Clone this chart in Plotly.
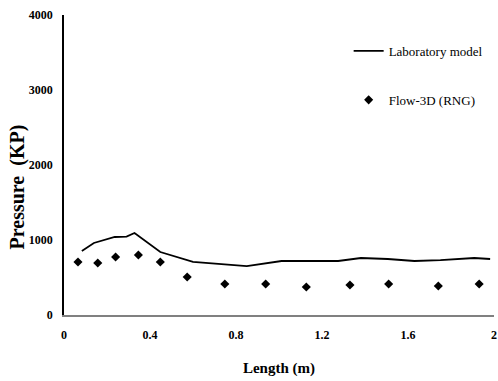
import plotly.graph_objects as go

lab_x = [0.083, 0.139, 0.236, 0.291, 0.328, 0.448, 0.600, 0.734, 0.850, 1.012, 1.275, 1.381, 1.506, 1.630, 1.751, 1.908, 1.982]
lab_y = [853, 960, 1040, 1045, 1093, 840, 707, 680, 653, 720, 720, 760, 747, 720, 733, 760, 747]

rng_x = [0.065, 0.157, 0.240, 0.346, 0.448, 0.573, 0.748, 0.938, 1.127, 1.330, 1.510, 1.741, 1.931]
rng_y = [707, 693, 773, 800, 707, 507, 413, 413, 373, 400, 413, 387, 413]

x_tick_step = 0.4
y_ticks = [0, 1000, 2000, 3000, 4000]
y_labels = ["0", "1000", "2000", "3000", "4000"]

FONT = "Liberation Serif, Times New Roman, serif"

fig = go.Figure()
fig.add_trace(go.Scatter(x=lab_x, y=lab_y, mode="lines", name="Laboratory model",
                         line=dict(color="black", width=1.8), legend="legend"))
fig.add_trace(go.Scatter(x=rng_x, y=rng_y, mode="markers", name="Flow-3D (RNG)",
                         marker=dict(symbol="diamond", size=7, color="black"), legend="legend2"))

fig.update_layout(
    width=498, height=381,
    margin=dict(l=64, r=1, t=15, b=66),
    paper_bgcolor="white", plot_bgcolor="white",
    font=dict(family=FONT, color="black"),
    showlegend=True,
    legend=dict(x=0.662, y=0.88, xanchor="left", yanchor="middle",
                bgcolor="rgba(0,0,0,0)", font=dict(size=13, family=FONT)),
    legend2=dict(x=0.662, y=0.717, xanchor="left", yanchor="middle",
                 bgcolor="rgba(0,0,0,0)", font=dict(size=13, family=FONT)),
    xaxis=dict(range=[0, 2], tickmode="linear", tick0=0, dtick=x_tick_step, showgrid=False, zeroline=False,
               showline=True, linecolor="#808080", linewidth=2,
               ticks="outside", ticklen=8, tickcolor="rgba(0,0,0,0)", ticklabeloverflow="allow",
               tickfont=dict(size=12, family=FONT, weight="bold"),
               title=dict(text="Length (m)", font=dict(size=15, family=FONT, weight="bold"), standoff=21)),
    yaxis=dict(range=[0, 4000], tickvals=y_ticks, ticktext=y_labels, showgrid=False, zeroline=False,
               showline=True, linecolor="black", linewidth=1.5,
               ticks="outside", ticklen=7, tickcolor="rgba(0,0,0,0)", ticklabeloverflow="allow",
               tickfont=dict(size=12, family=FONT, weight="bold")),
    annotations=[dict(text="Pressure  (KP)", textangle=-90, xref="paper", yref="paper",
                      x=-0.108, y=0.427, xanchor="center", yanchor="middle", showarrow=False,
                      font=dict(size=20, family=FONT, weight="bold"))],
)

fig.write_html("out.html")
